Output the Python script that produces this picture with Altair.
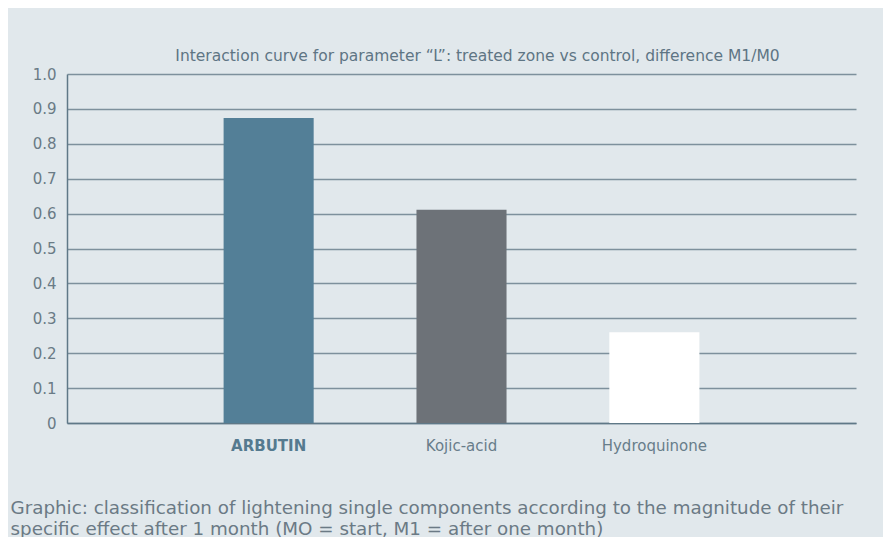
import altair as alt
import pandas as pd

categories = ["ARBUTIN", "Kojic-acid", "Hydroquinone"]
values = [0.874, 0.611, 0.26]
bar_colors = ["#537f97", "#6d7278", "#ffffff"]
y_ticks = [0, 0.1, 0.2, 0.3, 0.4, 0.5, 0.6, 0.7, 0.8, 0.9, 1.0]

title_text = "Interaction curve for parameter \u201cL\u201d: treated zone vs control, difference M1/M0"
caption_lines = [
    "Graphic: classification of lightening single components according to the magnitude of their",
    "specific effect after 1 month (MO = start, M1 = after one month)",
]

df = pd.DataFrame({"substance": categories, "value": values})

FONT = "DejaVu Sans"

chart = (
    alt.Chart(df)
    .mark_bar()
    .encode(
        x=alt.X(
            "substance:N",
            sort=categories,
            scale=alt.Scale(paddingInner=0.533, paddingOuter=0.812),
            axis=alt.Axis(
                title=caption_lines,
                titleFont=FONT,
                titleFontSize=18.3,
                titleFontWeight="normal",
                titleColor="#6b7a85",
                titleAnchor="start",
                titleAlign="left",
                titleBaseline="alphabetic",
                titleX=-57,
                titleY=90,
                titleLineHeight=21,
                labelAngle=0,
                labelFont=FONT,
                labelFontSize=15,
                labelColor={"condition": {"test": "datum.value == 'ARBUTIN'", "value": "#557a8f"}, "value": "#687d8a"},
                labelFontWeight={"condition": {"test": "datum.value == 'ARBUTIN'", "value": "bold"}, "value": "normal"},
                labelPadding=15,
                ticks=False,
                domainColor="#5f7887",
                domainWidth=1.5,
                grid=False,
            ),
        ),
        y=alt.Y(
            "value:Q",
            scale=alt.Scale(domain=[0, 1.0], nice=False),
            axis=alt.Axis(
                title=None,
                values=y_ticks,
                labelExpr="datum.value == 0 ? '0' : format(datum.value, '.1f')",
                labelFont=FONT,
                labelFontSize=15,
                labelColor="#6a7b86",
                labelPadding=11,
                ticks=False,
                domainColor="#5f7887",
                domainWidth=1.5,
                grid=True,
                gridColor="#7d909c",
                gridWidth=1.4,
            ),
        ),
        color=alt.Color(
            "substance:N",
            scale=alt.Scale(domain=categories, range=bar_colors),
            legend=None,
        ),
    )
    .properties(
        width=789,
        height=349,
        title=alt.TitleParams(
            text=title_text,
            font=FONT,
            fontSize=15.5,
            fontWeight="normal",
            color="#5e7584",
            anchor="middle",
            dx=16,
            offset=3,
        ),
        autosize=alt.AutoSizeParams(type="none"),
        padding={"left": 59, "top": 66, "right": 27, "bottom": 114},
        background="#e1e8ec",
    )
    .configure_view(stroke=None)
)

chart.save("out.html", embed_options={"renderer": "svg", "actions": False})
